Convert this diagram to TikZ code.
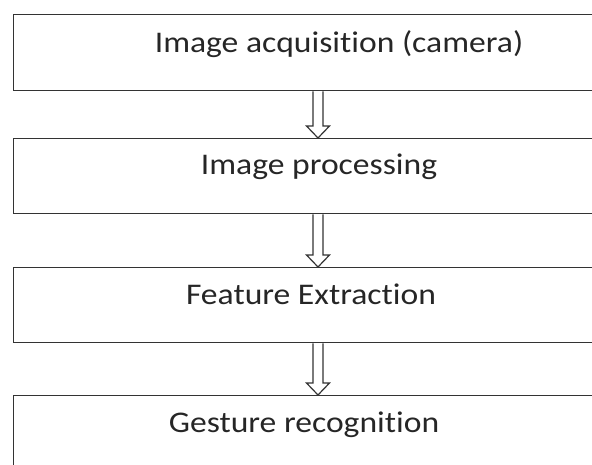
\documentclass[tikz,border=0pt]{standalone}
\usepackage{fontspec}
\setmainfont{Carlito}[FakeStretch=1.12, Ligatures=NoCommon]
\usetikzlibrary{calc}

\tikzset{
  stage/.style={draw=black!80, line width=1.4pt, rectangle, anchor=north west,
    minimum width=600pt, inner sep=0pt},
  caption/.style={anchor=base, inner sep=0pt, text=black!85,
    font=\fontsize{30}{36}\selectfont},
  hollow/.style={draw=black!80, line width=1.2pt, fill=white, line join=miter}
}

\begin{document}
\begin{tikzpicture}[x=1pt,y=-1pt]
\useasboundingbox (0,0) rectangle (592,465);
\clip (0,0) rectangle (592,465);

% stages
\node[stage, minimum height=76pt] (acq)  at (13,14)  {};
\node[stage, minimum height=75pt] (proc) at (13,138) {};
\node[stage, minimum height=75pt] (feat) at (13,267) {};
\node[stage, minimum height=90pt] (gest) at (13,395) {};

% labels
\node[caption] (acqtext)  at (339,53)  {Image acquisition (camera)};
\node[caption] (proctext) at (319,175) {Image processing};
\node[caption] (feattext) at (311,305) {Feature Extraction};
\node[caption] (gesttext) at (304,432) {Gesture recognition};

% hollow arrows
\coordinate (ax) at (318,0);
\foreach \from/\to in {acq/proc, proc/feat, feat/gest}
  \draw[hollow] ($(\from.south -| ax)+(-5,0)$) -- ($(\to.north -| ax)+(-5,-12)$)
    -- ++(-6.5,0) -- (\to.north -| ax) -- ++(11.5,-12) -- ++(-6.5,0)
    -- ($(\from.south -| ax)+(5,0)$);

\end{tikzpicture}
\end{document}
